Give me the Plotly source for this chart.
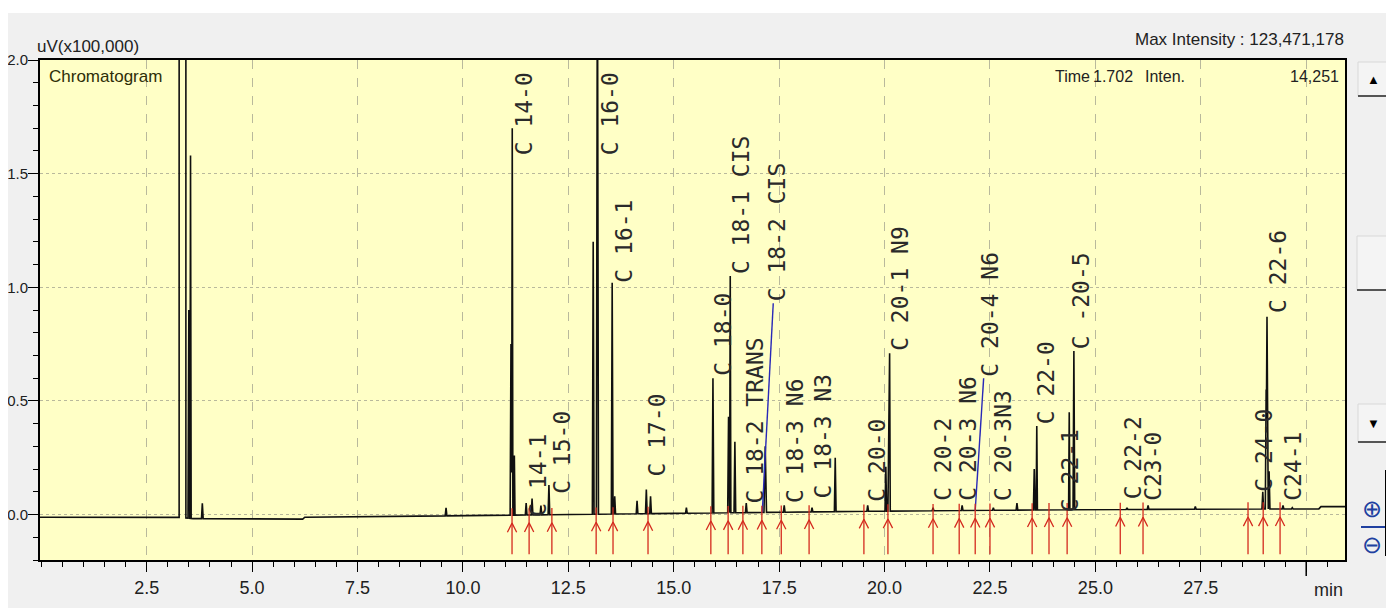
import numpy as np
import plotly.graph_objects as go

# ---------------- data ----------------
# baseline of the chromatogram (time in min, signal in uV x100,000)
baseline_time = [-0.03, 3.25, 3.60, 6.20, 6.25, 10.0, 15.0, 20.0, 25.0, 30.30, 30.35, 30.92]
baseline_level = [-0.012, -0.012, -0.018, -0.020, -0.012, -0.005, 0.005, 0.015, 0.022, 0.025, 0.035, 0.035]

# peaks: retention time, apex signal, half width (min)
peak_time = [3.35, 3.50, 3.54, 3.82, 9.60,
             11.14, 11.17, 11.22, 11.50, 11.64, 11.85, 12.04,
             13.09, 13.19, 13.54, 13.60, 14.13, 14.35, 14.45, 15.30,
             15.93, 16.30, 16.34, 16.45, 16.72, 17.17, 17.62, 18.28, 18.83,
             19.60, 20.03, 20.10, 20.12, 21.15, 21.84, 22.58, 23.14, 23.55, 23.61,
             24.38, 24.49, 25.75, 26.25, 27.37, 28.97, 29.05, 29.07, 29.12, 29.45, 29.67]
peak_height = [1234.7, 0.90, 1.58, 0.05, 0.03,
               0.75, 1.70, 0.26, 0.05, 0.07, 0.04, 0.13,
               1.20, 2.60, 1.02, 0.08, 0.06, 0.11, 0.08, 0.03,
               0.60, 0.43, 1.05, 0.32, 0.05, 0.30, 0.04, 0.03, 0.25,
               0.04, 0.21, 0.62, 0.71, 0.03, 0.04, 0.03, 0.05, 0.20, 0.39,
               0.45, 0.72, 0.03, 0.04, 0.035, 0.10, 0.55, 0.87, 0.19, 0.04, 0.03]
peak_halfwidth = [0.08, 0.02, 0.015, 0.02, 0.02,
                  0.02, 0.015, 0.015, 0.02, 0.02, 0.02, 0.02,
                  0.02, 0.025, 0.02, 0.02, 0.02, 0.02, 0.02, 0.02,
                  0.02, 0.02, 0.015, 0.02, 0.02, 0.03, 0.02, 0.02, 0.02,
                  0.02, 0.02, 0.02, 0.015, 0.02, 0.02, 0.02, 0.02, 0.02, 0.015,
                  0.015, 0.02, 0.02, 0.02, 0.02, 0.02, 0.02, 0.015, 0.02, 0.02, 0.02]

# peaks drawn in blue (start time, apex time, apex signal)
blue_start = [17.10, 22.15]
blue_apex_time = [17.36, 22.35]
blue_apex_height = [0.93, 0.60]

# red peak start / end markers (min)
marker_time = [11.165, 11.57, 12.11, 13.16, 13.56, 14.39, 15.88, 16.29, 16.64, 17.09,
               17.55, 18.21, 19.51, 20.08, 21.15, 21.77, 22.15, 22.50, 23.50, 23.90,
               24.33, 25.59, 26.13, 28.62, 28.98, 29.38]

# peak labels: text, time of label, signal level where the text starts
label_text = ["C 14-0", "C 14-1", "C 15-0", "C 16-0", "C 16-1", "C 17-0", "C 18-0",
              "C 18-1 CIS", "C 18-2 TRANS", "C 18-2 CIS", "C 18-3 N6", "C 18-3 N3",
              "C 20-0", "C 20-1 N9", "C 20-2", "C 20-3 N6", "C 20-4 N6", "C 20-3N3",
              "C 22-0", "C 22-1", "C -20-5", "C 22-2", "C23-0", "C 24-0", "C 22-6", "C24-1"]
label_time = [11.45, 11.76, 12.35, 13.49, 13.80, 14.60, 16.17,
              16.60, 16.93, 17.45, 17.88, 18.54,
              19.82, 20.37, 21.39, 21.98, 22.50, 22.79,
              23.85, 24.40, 24.68, 25.89, 26.37, 28.98, 29.33, 29.69]
label_level = [1.57, -0.02, 0.08, 1.57, 1.01, 0.16, 0.60,
               1.05, 0.04, 0.93, 0.04, 0.06,
               0.05, 0.71, 0.05, 0.05, 0.60, 0.05,
               0.39, -0.0, 0.72, 0.06, 0.05, 0.09, 0.88, 0.05]

x_tick_values = [2.5, 5.0, 7.5, 10.0, 12.5, 15.0, 17.5, 20.0, 22.5, 25.0, 27.5, 30.0]
x_tick_labels = ["2.5", "5.0", "7.5", "10.0", "12.5", "15.0", "17.5", "20.0", "22.5", "25.0", "27.5", ""]
y_tick_values = [0.0, 0.5, 1.0, 1.5, 2.0]
y_tick_labels = ["0.0", "0.5", "1.0", "1.5", "2.0"]

# ---------------- build chromatogram polyline ----------------
bt = np.array(baseline_time)
bl = np.array(baseline_level)
pt = np.array(peak_time)
ph = np.array(peak_height)
pw = np.array(peak_halfwidth)

spans = list(zip(pt - pw, pt + pw))
pts = set()
for t in bt:
    if not any(a < t < b for a, b in spans):
        pts.add(round(float(t), 5))
for t, w in zip(pt, pw):
    pts.update([round(float(t - w), 5), round(float(t), 5), round(float(t + w), 5)])
tx = np.array(sorted(pts))
sig = np.interp(tx, bt, bl)
for t, h, w in zip(pt, ph, pw):
    base_t = np.interp(t, bt, bl)
    tri = np.where(np.abs(tx - t) <= w, base_t + (h - base_t) * (1 - np.abs(tx - t) / w), -1e9)
    sig = np.maximum(sig, tri)

# blue peaks
bx, by = [], []
for s, a, h in zip(blue_start, blue_apex_time, blue_apex_height):
    bx += [s, a, None]
    by += [float(np.interp(s, bt, bl)), h, None]

# red markers
mx, my = [], []
for t in marker_time:
    b = float(np.interp(t, bt, bl))
    mx += [t, t, None, t - 0.11, t, t + 0.11, None]
    my += [b + 0.03, -0.175, None, b - 0.075, b - 0.035, b - 0.075, None]

# ---------------- figure ----------------
# the page body has an 8 px margin; plot area in page pixels:
OFF = 8
PL, PR, PT, PB = 40, 1345, 60, 560
W, H = 1394 - OFF, 608 - OFF


def pxx(x):
    return (x - PL) / (PR - PL)


def pyy(y):
    return (PB - y) / (PB - PT)


SANS = "Liberation Sans, Arial, sans-serif"
LABELFONT = "DejaVu Sans Mono, monospace"

fig = go.Figure()
fig.add_trace(go.Scatter(x=tx, y=sig, mode="lines", line=dict(color="#101010", width=1.6),
                         hoverinfo="skip", showlegend=False, cliponaxis=True))
fig.add_trace(go.Scatter(x=bx, y=by, mode="lines", line=dict(color="#2828b8", width=1.4),
                         hoverinfo="skip", showlegend=False))
fig.add_trace(go.Scatter(x=mx, y=my, mode="lines", line=dict(color="#d42a1e", width=1.3),
                         hoverinfo="skip", showlegend=False))

annotations = []
for txt, t, lv in zip(label_text, label_time, label_level):
    annotations.append(dict(x=t, y=lv, xref="x", yref="y", text=txt, textangle=-90,
                            xanchor="center", yanchor="bottom", showarrow=False,
                            font=dict(family=LABELFONT, size=23, color="#2a2a2a")))


def ptext(text, x, y, xanchor="left", size=17, color="#222222", family=SANS):
    annotations.append(dict(x=pxx(x), y=pyy(y), xref="paper", yref="paper", text=text,
                            xanchor=xanchor, yanchor="middle", showarrow=False,
                            font=dict(family=family, size=size, color=color)))


ptext("uV(x100,000)", 35, 47)
ptext("Chromatogram", 47, 76, color="#2e2e08")
ptext("Max Intensity : 123,471,178", 1346, 40, xanchor="right")
ptext("Time", 1072, 76, xanchor="center", size=16)
ptext("1.702", 1113, 76, xanchor="center", size=16)
ptext("Inten.", 1165, 76, xanchor="center", size=16)
ptext("14,251", 1341, 76, xanchor="right", size=16)
ptext("min", 1328, 590, xanchor="center", size=18)
ptext("▲", 1373, 79, xanchor="center", size=13, color="#000000")
ptext("▼", 1373, 423, xanchor="center", size=13, color="#000000")
ptext("⊕", 1372, 508, xanchor="center", size=24, color="#2040a0")
ptext("⊖", 1372, 544, xanchor="center", size=24, color="#2040a0")

shapes = []
# white strip at the top of the window
shapes.append(dict(type="rect", xref="paper", yref="paper", x0=pxx(0), x1=pxx(1400), y0=pyy(13), y1=pyy(0),
                   fillcolor="white", line=dict(width=0), layer="below"))


def button(x0, y0, x1, y1):
    shapes.append(dict(type="rect", xref="paper", yref="paper", x0=pxx(x0), x1=pxx(x1), y0=pyy(y1), y1=pyy(y0),
                       fillcolor="#f4f4f4", line=dict(color="#d8d8d8", width=1)))
    shapes.append(dict(type="path", xref="paper", yref="paper",
                       path=f"M {pxx(x0)} {pyy(y1)} L {pxx(x1)} {pyy(y1)} L {pxx(x1)} {pyy(y0)}",
                       line=dict(color="#555555", width=2)))


button(1358, 62, 1387, 96)
button(1357, 236, 1388, 290)
button(1358, 404, 1387, 442)
shapes.append(dict(type="line", xref="paper", yref="paper", x0=pxx(1361), x1=pxx(1388), y0=pyy(527), y1=pyy(527),
                   line=dict(color="#2040a0", width=2)))
shapes.append(dict(type="line", xref="paper", yref="paper", x0=pxx(1386), x1=pxx(1386), y0=pyy(470), y1=pyy(556),
                   line=dict(color="#000000", width=2)))
# longer tick at 30.0 min
shapes.append(dict(type="line", xref="x", yref="paper", x0=30.0, x1=30.0, y0=0, y1=pyy(576),
                   line=dict(color="#000000", width=1.5)))

fig.update_layout(
    width=W, height=H,
    margin=dict(l=PL - OFF, r=1394 - PR, t=PT - OFF, b=608 - PB, pad=0, autoexpand=False),
    paper_bgcolor="#f0f0f0",
    plot_bgcolor="#ffffc6",
    annotations=annotations,
    shapes=shapes,
    showlegend=False,
)
fig.update_xaxes(range=[-0.03, 30.92], tickmode="array", tickvals=x_tick_values, ticktext=x_tick_labels,
                 ticks="outside", ticklen=10, tickwidth=1.3, tickcolor="#000", automargin=False,
                 tickfont=dict(family=SANS, size=18, color="#202020"),
                 minor=dict(tickmode="linear", tick0=0, dtick=0.5, ticks="outside", ticklen=5, tickcolor="#000",
                            showgrid=False),
                 showgrid=True, gridcolor="#b9b99c", griddash="dash", gridwidth=1,
                 showline=True, linecolor="#000", linewidth=2, mirror=True, zeroline=False)
fig.update_yaxes(range=[-0.2, 2.0], tickmode="array", tickvals=y_tick_values, ticktext=y_tick_labels,
                 ticks="outside", ticklen=10, tickwidth=1.3, tickcolor="#000", automargin=False,
                 tickfont=dict(family=SANS, size=15, color="#202020"), ticklabelstandoff=-3,
                 minor=dict(tickmode="linear", tick0=0, dtick=0.1, ticks="outside", ticklen=5, tickcolor="#000",
                            showgrid=False),
                 showgrid=True, gridcolor="#b9b99c", griddash="dot", gridwidth=1,
                 showline=True, linecolor="#000", linewidth=2, mirror=True, zeroline=False)

fig.write_html("out.html", config={"displayModeBar": False})
